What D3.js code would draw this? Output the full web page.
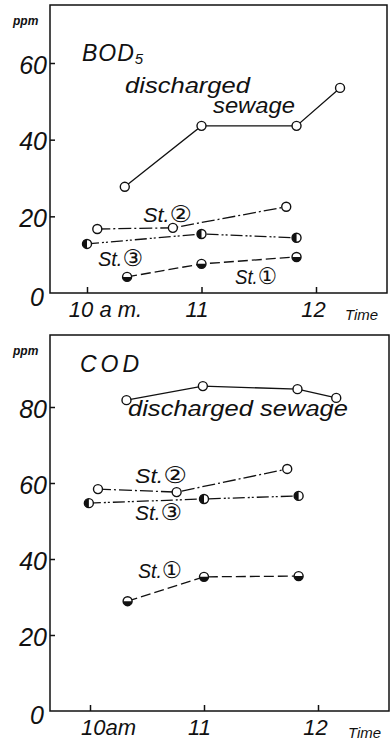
<!DOCTYPE html>
<html><head><meta charset="utf-8">
<script src="https://cdn.jsdelivr.net/npm/d3@7"></script>
<style>body{margin:0;background:#fff}svg{display:block}text{font-family:"Liberation Sans","DejaVu Sans",sans-serif;font-style:italic;fill:#111}</style>
</head><body><svg id="c" width="391" height="742"></svg>
<script>
// ---- data ----
const xTicks = [10, 11, 12];
const xTickLabelsBOD = ["10 a m.", "11", "12"];
const xTickLabelsCOD = ["10am", "11", "12"];
const yTicksBOD = [0, 20, 40, 60];
const yTicksCOD = [0, 20, 40, 60, 80];

const bodSewageHours = [10.33, 11.0, 11.83, 12.21];
const bodSewage      = [27.7, 43.6, 43.6, 53.5];
const bodSt2Hours    = [10.09, 10.75, 11.74];
const bodSt2         = [16.7, 17.0, 22.5];
const bodSt3Hours    = [10.0, 11.0, 11.83];
const bodSt3         = [12.8, 15.4, 14.4];
const bodSt1Hours    = [10.35, 11.0, 11.83];
const bodSt1         = [4.2, 7.6, 9.4];

const codSewageHours = [10.32, 10.99, 11.82, 12.16];
const codSewage      = [81.8, 85.5, 84.7, 82.4];
const codSt2Hours    = [10.07, 10.76, 11.73];
const codSt2         = [58.4, 57.6, 63.7];
const codSt3Hours    = [9.99, 11.0, 11.83];
const codSt3         = [54.7, 55.8, 56.6];
const codSt1Hours    = [10.33, 11.0, 11.83];
const codSt1         = [28.9, 35.3, 35.5];

const svg = d3.select("#c");
const R = 4.5;
const zip = (h, v) => h.map((d, i) => ({h: d, v: v[i]}));
const narrow = "'Liberation Sans Narrow','Liberation Sans',sans-serif";

function panel(cfg) {
  const g = svg.append("g");
  const x = d3.scaleLinear().domain([10, 12]).range(cfg.xr);
  const y = d3.scaleLinear().domain([0, cfg.ymax]).range(cfg.yr);
  // frame
  g.append("rect").attr("x", cfg.box[0]).attr("y", cfg.box[1])
    .attr("width", cfg.box[2] - cfg.box[0]).attr("height", cfg.yr[0] - cfg.box[1])
    .attr("fill", "none").attr("stroke", "#111").attr("stroke-width", 1.5);
  // y axis
  const ya = g.append("g").attr("transform", `translate(${cfg.box[0]},0)`)
    .call(d3.axisLeft(y).tickValues(cfg.yTicks).tickSize(-5).tickPadding(3).tickFormat(d3.format("d")));
  ya.select(".domain").remove();
  ya.selectAll("line").attr("stroke", "#111").attr("stroke-width", 1.5);
  ya.selectAll("text").attr("font-size", 25).attr("dy", "0.4em")
    .style("font-family", narrow).style("font-style", "italic");
  ya.selectAll(".tick").filter(d => d === 0).select("line").remove();
  ya.selectAll(".tick").filter(d => d === 0).select("text").attr("dy", "0.5em").attr("x", -6);
  // x axis
  const xa = g.append("g").attr("transform", `translate(0,${cfg.yr[0]})`)
    .call(d3.axisBottom(x).tickValues(xTicks).tickSize(-6).tickPadding(8).tickFormat((d, i) => cfg.xLabels[i]));
  xa.select(".domain").remove();
  xa.selectAll("line").attr("stroke", "#111").attr("stroke-width", 1.5);
  xa.selectAll("text").attr("font-size", 22)
    .style("font-family", narrow).style("font-style", "italic")
    .attr("dx", (d, i) => i === 0 ? 18 : i === 1 ? -5 : -3);
  g.append("text").attr("x", cfg.timeX).attr("y", cfg.yr[0] + 27).attr("font-size", 15).text("Time");
  g.append("text").attr("x", 13).attr("y", cfg.box[1] + 20).attr("font-size", 12).attr("font-weight", "bold").text("ppm");

  const line = d3.line().x(d => x(d.h)).y(d => y(d.v));
  const series = [
    {d: zip(cfg.sewH, cfg.sew), dash: null, mark: "open"},
    {d: zip(cfg.s2H, cfg.s2), dash: "13,3,2,3", mark: "open"},
    {d: zip(cfg.s3H, cfg.s3), dash: "12,3,2,2,2,3", mark: "left"},
    {d: zip(cfg.s1H, cfg.s1), dash: "10,4", mark: "bottom"}
  ];
  series.forEach(s => {
    g.append("path").datum(s.d).attr("d", line).attr("fill", "none")
      .attr("stroke", "#111").attr("stroke-width", 1.3).attr("stroke-dasharray", s.dash);
    const m = g.selectAll(null).data(s.d).enter().append("g")
      .attr("transform", d => `translate(${x(d.h)},${y(d.v)})`);
    m.append("circle").attr("r", R).attr("fill", "#fff").attr("stroke", "#111").attr("stroke-width", 1.4);
    if (s.mark !== "open") {
      const a = s.mark === "bottom" ? [Math.PI / 2, 3 * Math.PI / 2] : [Math.PI, 2 * Math.PI];
      m.append("path").attr("d", d3.arc().innerRadius(0).outerRadius(R).startAngle(a[0]).endAngle(a[1])())
        .attr("fill", "#111");
    }
  });
  cfg.labels.forEach(l => {
    const t = g.append("text").attr("x", l[0]).attr("y", l[1]).attr("font-size", l[2]);
    if (l[5]) {
      t.append("tspan").text(l[3]);
      t.append("tspan").attr("font-size", l[2] * 1.15).attr("font-style", "normal").text(l[5]);
    } else t.text(l[3]);
    if (l[4]) t.attr("textLength", l[4]).attr("lengthAdjust", "spacingAndGlyphs");
  });
  return g;
}

const topG = panel({
  xr: [87, 316], yr: [293, 63], ymax: 60, box: [50, 5, 387], yTicks: yTicksBOD, xLabels: xTickLabelsBOD, timeX: 345,
  sewH: bodSewageHours, sew: bodSewage, s2H: bodSt2Hours, s2: bodSt2, s3H: bodSt3Hours, s3: bodSt3, s1H: bodSt1Hours, s1: bodSt1,
  labels: [[125, 93, 22, "discharged", 125], [213, 113, 22, "sewage", 82],
           [143, 222, 20, "St.", 49, "②"], [98, 266, 20, "St.", 45, "③"], [235, 284, 20, "St.", 42, "①"]]
});
const bod = topG.append("text").attr("x", 82).attr("y", 61).attr("font-size", 23).attr("letter-spacing", 1);
bod.append("tspan").text("BOD");
bod.append("tspan").attr("font-size", 15).attr("dy", 3).text("5");

const bottomG = panel({
  xr: [90, 318], yr: [711, 407], ymax: 80, box: [50, 335, 389], yTicks: yTicksCOD, xLabels: xTickLabelsCOD, timeX: 348,
  sewH: codSewageHours, sew: codSewage, s2H: codSt2Hours, s2: codSt2, s3H: codSt3Hours, s3: codSt3, s1H: codSt1Hours, s1: codSt1,
  labels: [[128, 416, 22, "discharged sewage", 220],
           [135, 483, 20, "St.", 52, "②"], [135, 520, 20, "St.", 47, "③"], [138, 578, 20, "St.", 44, "①"]]
});
bottomG.append("text").attr("x", 80).attr("y", 372).attr("font-size", 23).attr("letter-spacing", 4).text("COD");
</script></body></html>
